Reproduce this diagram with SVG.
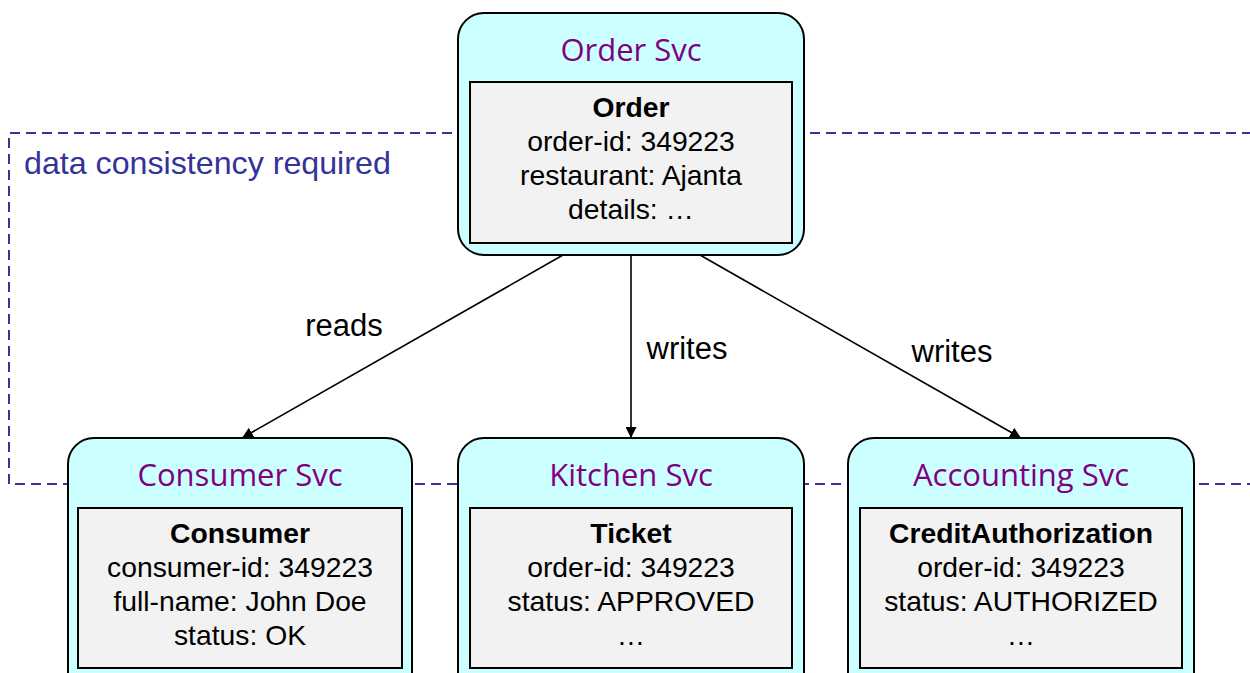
<svg xmlns="http://www.w3.org/2000/svg" width="1250" height="673" viewBox="0 0 1250 673">
<defs>
<marker id="arr" viewBox="0 0 10 10" refX="10" refY="5" markerWidth="11" markerHeight="11" markerUnits="userSpaceOnUse" orient="auto">
<path d="M0,0 L10,5 L0,10 z" fill="#000"/>
</marker>
<style>
.svc{fill:#ccffff;stroke:#000;stroke-width:2}
.inner{fill:#f2f2f2;stroke:#000;stroke-width:2}
.title{font-family:"Open Sans","Liberation Sans",sans-serif;font-size:31px;fill:#800080;text-anchor:middle}
.ent{font-family:"Liberation Sans",Arial,sans-serif;font-size:28.3px;fill:#000;text-anchor:middle}
.b{font-weight:bold}
.lbl{font-family:"Liberation Sans",Arial,sans-serif;font-size:31px;fill:#000;text-anchor:middle}
.edge{stroke:#000;stroke-width:1.6;fill:none;marker-end:url(#arr)}
.dash{fill:none;stroke:#333399;stroke-width:2;stroke-dasharray:10,6}
</style>
</defs>
<rect width="1250" height="673" fill="#fff"/>
<g id="boundary">
<path class="dash" d="M1252,133 H9 V484 H1252"/>
<text x="24" y="174" style="font-family:'Liberation Sans',Arial,sans-serif;font-size:32.2px;fill:#333399">data consistency required</text>
</g>
<g id="connectors">
<line class="edge" x1="563" y1="255" x2="242" y2="438"/>
<line class="edge" x1="631" y1="255" x2="631" y2="438"/>
<line class="edge" x1="700" y1="255" x2="1021" y2="438"/>
<text class="lbl" x="344" y="336">reads</text>
<text class="lbl" x="687" y="359">writes</text>
<text class="lbl" x="952" y="362">writes</text>
</g>
<g id="order-svc">
<rect class="svc" x="458" y="13" width="346" height="242" rx="26"/>
<text class="title" x="631" y="61">Order Svc</text>
<rect class="inner" x="470" y="82" width="322" height="161"/>
<text class="ent b" x="631" y="117">Order</text>
<text class="ent" x="631" y="151">order-id: 349223</text>
<text class="ent" x="631" y="185">restaurant: Ajanta</text>
<text class="ent" x="631" y="219">details: …</text>
</g>
<g id="consumer-svc">
<rect class="svc" x="68" y="438" width="344" height="260" rx="26"/>
<text class="title" x="240" y="486">Consumer Svc</text>
<rect class="inner" x="78" y="508" width="324" height="160"/>
<text class="ent b" x="240" y="543">Consumer</text>
<text class="ent" x="240" y="577">consumer-id: 349223</text>
<text class="ent" x="240" y="611">full-name: John Doe</text>
<text class="ent" x="240" y="645">status: OK</text>
</g>
<g id="kitchen-svc">
<rect class="svc" x="458" y="438" width="346" height="260" rx="26"/>
<text class="title" x="631" y="486">Kitchen Svc</text>
<rect class="inner" x="470" y="508" width="322" height="160"/>
<text class="ent b" x="631" y="543">Ticket</text>
<text class="ent" x="631" y="577">order-id: 349223</text>
<text class="ent" x="631" y="611">status: APPROVED</text>
<text class="ent" x="631" y="645">…</text>
</g>
<g id="accounting-svc">
<rect class="svc" x="848" y="438" width="346" height="260" rx="26"/>
<text class="title" x="1021" y="486">Accounting Svc</text>
<rect class="inner" x="860" y="508" width="322" height="160"/>
<text class="ent b" x="1021" y="543">CreditAuthorization</text>
<text class="ent" x="1021" y="577">order-id: 349223</text>
<text class="ent" x="1021" y="611">status: AUTHORIZED</text>
<text class="ent" x="1021" y="645">…</text>
</g>
</svg>
